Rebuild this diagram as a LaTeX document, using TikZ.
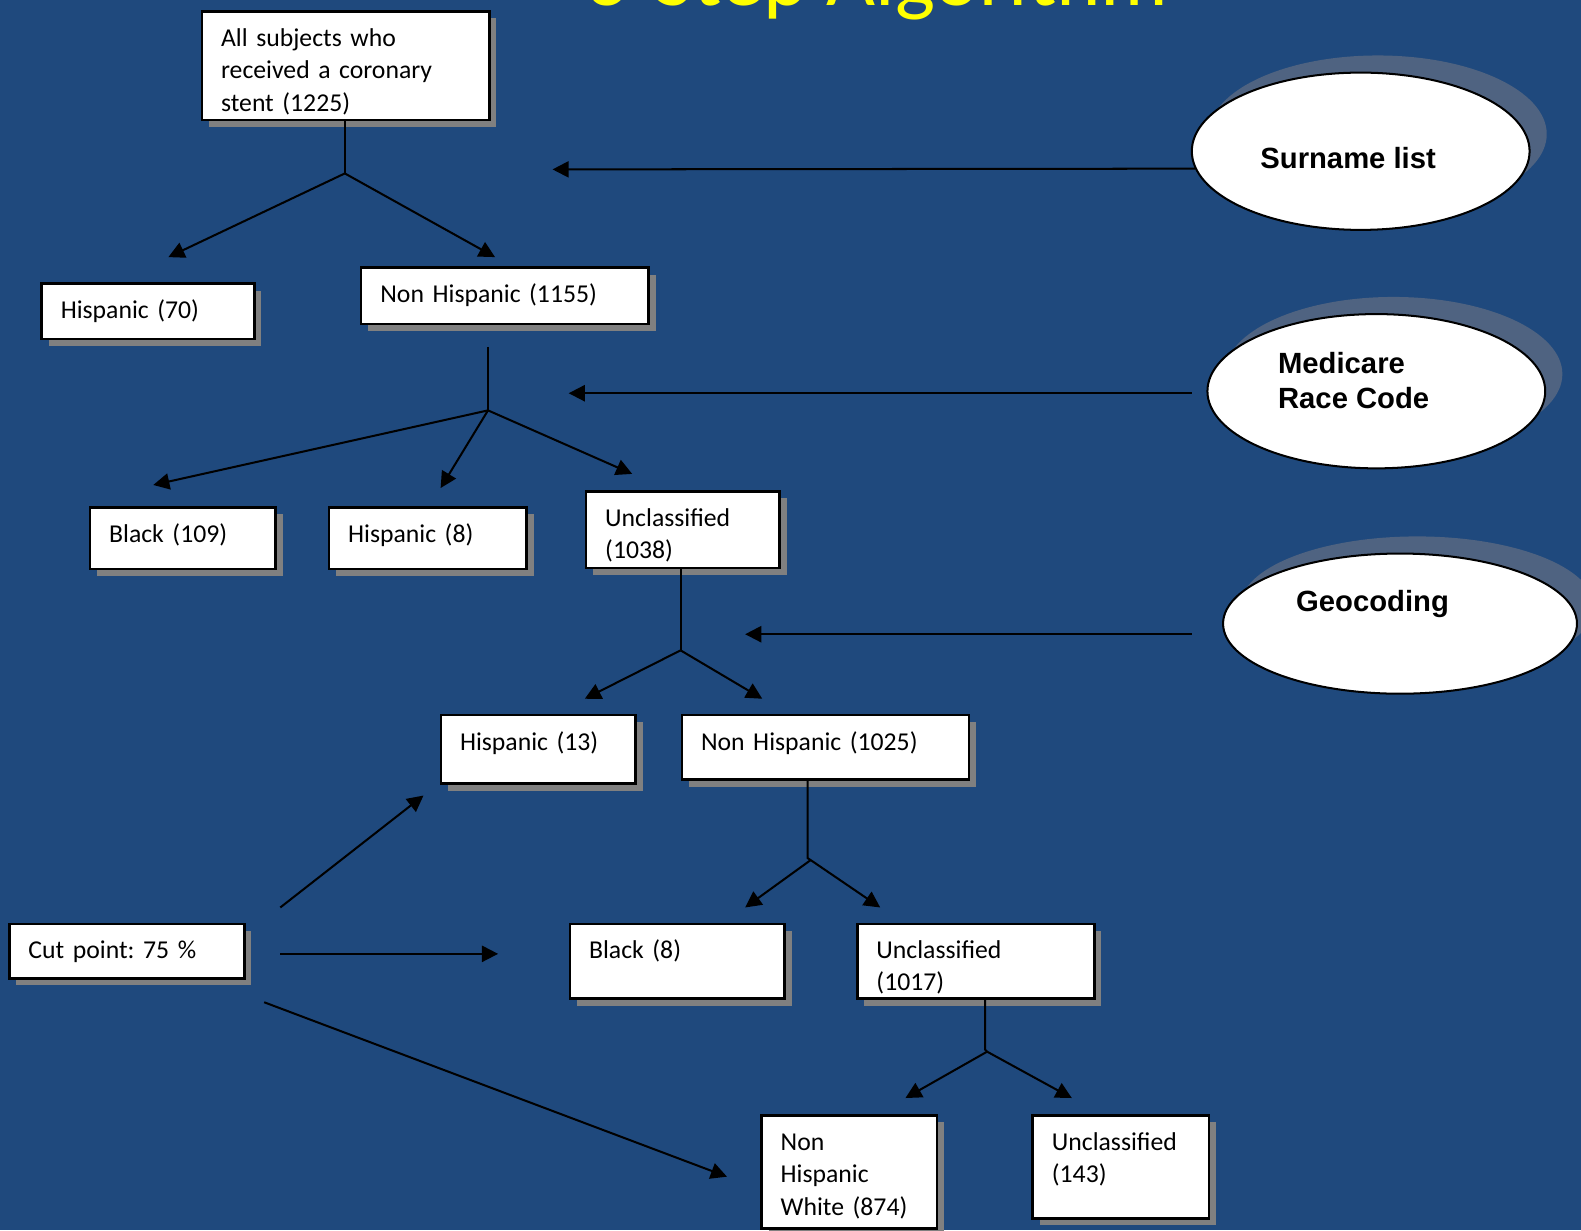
\documentclass[tikz,border=0pt]{standalone}
\usepackage{fontspec}
\setmainfont{Carlito}
\newfontfamily\arialf{Liberation Sans}
\usetikzlibrary{shapes.geometric,arrows.meta,shadows,calc}
\definecolor{bg}{HTML}{1F497D}
\definecolor{boxshadow}{HTML}{808080}
\definecolor{ellshadow}{HTML}{4F6381}
\definecolor{titleyellow}{HTML}{FFFF00}
\frenchspacing
\tikzset{
  box/.style n args={3}{draw=black, fill=white, line width=2.5pt, anchor=north west,
    inner xsep=19pt, inner ysep=0pt, align=left,
    text width=#1pt, text height=#2pt, text depth=#3pt,
    font=\fontsize{25.5}{32}\selectfont,
    drop shadow={shadow xshift=7pt, shadow yshift=-7pt, fill=boxshadow, opacity=1}},
  ell/.style={ellipse, draw=black, fill=white, line width=2pt, inner sep=0pt,
    font=\fontsize{29}{35.5}\selectfont\arialf\bfseries,
    general shadow={shadow xshift=17pt, shadow yshift=17pt, fill=ellshadow}},
  arr/.style={draw=black, line width=2pt, -{Triangle[length=16pt,width=16pt]}},
  ln/.style={draw=black, line width=2pt},
}
\begin{document}
\begin{tikzpicture}[x=1pt,y=-1pt]
\fill[bg] (0,0) rectangle (1568,1220);
\useasboundingbox (0,0) rectangle (1568,1220);
% title (cut off at the top, as in the reference)
\begin{scope}
\clip (0,0) rectangle (1568,1220);
\node[anchor=base, text=titleyellow, font=\fontsize{84}{90}\selectfont, inner sep=0pt] (title) at (870,5) {3-Step Algorithm};
\end{scope}

% boxes
\node[box={247}{35}{73}] (all) at (199,10) {All subjects who\\received a coronary\\stent (1225)};
\node[box={173}{35}{20}] (h70) at (40,280) {Hispanic (70)};
\node[box={247}{35}{21}] (nh1155) at (357,264) {Non Hispanic (1155)};
\node[box={146}{35}{26}] (b109) at (88,502) {Black (109)};
\node[box={158}{35}{26}] (h8) at (325,502) {Hispanic (8)};
\node[box={154}{35}{41}] (u1038) at (580,486) {Unclassified\\(1038)};
\node[box={155}{35}{33}] (h13) at (436,708) {Hispanic (13)};
\node[box={247}{35}{29}] (nh1025) at (675,708) {Non Hispanic (1025)};
\node[box={175}{34}{40}] (b8) at (564,915) {Black (8)};
\node[box={197}{34}{40}] (u1017) at (849,915) {Unclassified\\(1017)};
\node[box={136}{35}{77}] (nhw) at (754,1105) {Non\\Hispanic\\White (874)};
\node[box={137}{35}{67}] (u143) at (1023,1105) {Unclassified\\(143)};
\node[box={195}{34}{20}] (cut) at (8,915) {Cut point: 75 \%};

% ellipses
\node[ell, minimum width=335pt, minimum height=156pt] (surname) at (1349.5,150)
  {\makebox[0pt][l]{\hspace*{-99.5pt}\raisebox{-17.6pt}[0pt][0pt]{Surname list}}};
\node[ell, minimum width=335pt, minimum height=153pt] (medicare) at (1365,388)
  {\makebox[0pt][l]{\hspace*{-97.4pt}\raisebox{-17.6pt}[0pt][0pt]{\begin{tabular}[b]{@{}l@{}}Medicare\\Race Code\end{tabular}}}};
\node[ell, minimum width=351pt, minimum height=139pt] (geo) at (1388.5,618.5)
  {\makebox[0pt][l]{\hspace*{-103pt}\raisebox{11.9pt}[0pt][0pt]{Geocoding}}};

% coordinates
\coordinate (br1) at (342,172);
\coordinate (t1a) at (167,255);
\coordinate (t1b) at (491,255);
\coordinate (s2) at (484,344);
\coordinate (br2) at (484,407);
\coordinate (t2a) at (152,481);
\coordinate (t2b) at (437,484);
\coordinate (t2c) at (627,470);
\coordinate (br3) at (675,645);
\coordinate (t3a) at (580,693);
\coordinate (t3b) at (756,693);
\coordinate (v4) at (801,851);
\coordinate (br4) at (804,853);
\coordinate (t4a) at (739,900);
\coordinate (t4b) at (873,900);
\coordinate (v5) at (977,1041);
\coordinate (br5) at (979,1043);
\coordinate (t5a) at (898,1089);
\coordinate (t5b) at (1063,1089);
\coordinate (tS) at (548,168);
\coordinate (sM) at (1182,390);
\coordinate (tM) at (564,390);
\coordinate (sG) at (1182,629);
\coordinate (tG) at (739,629);
\coordinate (c1s) at (278,900);
\coordinate (c1t) at (420,789);
\coordinate (c2s) at (278,946);
\coordinate (c2t) at (494,946);
\coordinate (c3s) at (262,994);
\coordinate (c3t) at (721,1167);

% tree 1
\draw[ln] (all.south -| br1) -- (br1);
\draw[arr] (br1) -- (t1a);
\draw[arr] (br1) -- (t1b);
% tree 2
\draw[ln] (s2) -- (br2);
\draw[arr] (br2) -- (t2a);
\draw[arr] (br2) -- (t2b);
\draw[arr] (br2) -- (t2c);
% tree 3
\draw[ln] (u1038.south -| br3) -- (br3);
\draw[arr] (br3) -- (t3a);
\draw[arr] (br3) -- (t3b);
% tree 4
\draw[ln] (nh1025.south -| v4) -- (v4) -- (br4);
\draw[arr] (br4) -- (t4a);
\draw[arr] (br4) -- (t4b);
% tree 5
\draw[ln] (u1017.south -| v5) -- (v5) -- (br5);
\draw[arr] (br5) -- (t5a);
\draw[arr] (br5) -- (t5b);

% source arrows
\draw[arr] (surname.186) -- (tS);
\draw[arr] (sM) -- (tM);
\draw[arr] (sG) -- (tG);

% cut point arrows
\draw[arr] (c1s) -- (c1t);
\draw[arr] (c2s) -- (c2t);
\draw[arr] (c3s) -- (c3t);
\end{tikzpicture}
\end{document}
